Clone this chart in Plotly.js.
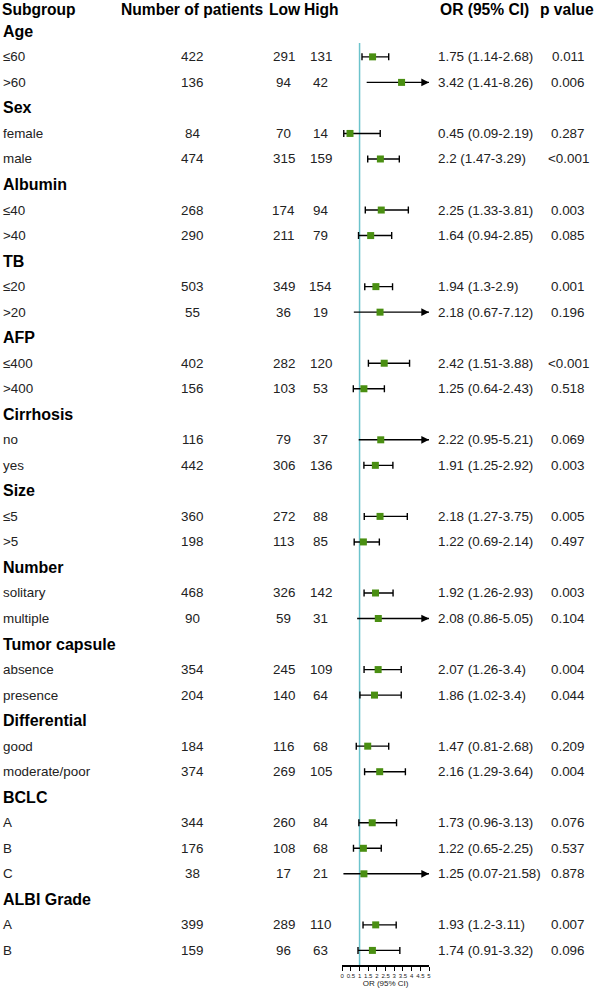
<!DOCTYPE html>
<html>
<head>
<meta charset="utf-8">
<script src="https://cdn.plot.ly/plotly-3.0.1.min.js"></script>
<style>html,body{margin:0;padding:0;background:#fff;}#chart{width:597px;height:993px;}</style>
</head>
<body>
<div id="chart"></div>
<script>
// ---------------- DATA ----------------
const headers = ["Subgroup", "Number of patients", "Low", "High", "OR (95% CI)", "p value"];
const groups = ["Age", "Sex", "Albumin", "TB", "AFP", "Cirrhosis", "Size", "Number",
                "Tumor capsule", "Differential", "BCLC", "ALBI Grade"];
const subgroups = [["≤60", ">60"], ["female", "male"], ["≤40", ">40"], ["≤20", ">20"],
                   ["≤400", ">400"], ["no", "yes"], ["≤5", ">5"], ["solitary", "multiple"],
                   ["absence", "presence"], ["good", "moderate/poor"], ["A", "B", "C"], ["A", "B"]];
const nPatients = [[422, 136], [84, 474], [268, 290], [503, 55], [402, 156], [116, 442],
                   [360, 198], [468, 90], [354, 204], [184, 374], [344, 176, 38], [399, 159]];
const nLow = [[291, 94], [70, 315], [174, 211], [349, 36], [282, 103], [79, 306],
              [272, 113], [326, 59], [245, 140], [116, 269], [260, 108, 17], [289, 96]];
const nHigh = [[131, 42], [14, 159], [94, 79], [154, 19], [120, 53], [37, 136],
               [88, 85], [142, 31], [109, 64], [68, 105], [84, 68, 21], [110, 63]];
const orValue = [[1.75, 3.42], [0.45, 2.2], [2.25, 1.64], [1.94, 2.18], [2.42, 1.25], [2.22, 1.91],
                 [2.18, 1.22], [1.92, 2.08], [2.07, 1.86], [1.47, 2.16], [1.73, 1.22, 1.25], [1.93, 1.74]];
const ciLower = [[1.14, 1.41], [0.09, 1.47], [1.33, 0.94], [1.3, 0.67], [1.51, 0.64], [0.95, 1.25],
                 [1.27, 0.69], [1.26, 0.86], [1.26, 1.02], [0.81, 1.29], [0.96, 0.65, 0.07], [1.2, 0.91]];
const ciUpper = [[2.68, 8.26], [2.19, 3.29], [3.81, 2.85], [2.9, 7.12], [3.88, 2.43], [5.21, 2.92],
                 [3.75, 2.14], [2.93, 5.05], [3.4, 3.4], [2.68, 3.64], [3.13, 2.25, 21.58], [3.11, 3.32]];
const pValues = [["0.011", "0.006"], ["0.287", "<0.001"], ["0.003", "0.085"], ["0.001", "0.196"],
                 ["<0.001", "0.518"], ["0.069", "0.003"], ["0.005", "0.497"], ["0.003", "0.104"],
                 ["0.004", "0.044"], ["0.209", "0.004"], ["0.076", "0.537", "0.878"], ["0.007", "0.096"]];
const xTicks = [0, 0.5, 1, 1.5, 2, 2.5, 3, 3.5, 4, 4.5, 5];
const refValue = 1;

// ---------------- STYLE ----------------
const W = 597, H = 993;
const FONT = "Liberation Sans, Arial, sans-serif";
const BOLD = 16, HEAD = 15.6, REG = 13.4;
const markerColor = "#4a8f12";
const refColor = "#6cc3cc";
const textColor = "#222";
const col = {label: 1, n: 192, low: 283.5, high: 320.5, or: 435.5, p: 568};
const headCol = {label: 1, n: 191.5, low: 285, high: 321.5, or: 484, p: 566.5};
const xMin = xTicks[0], xMax = xTicks[xTicks.length - 1];
const rowTopPx = 5.8, rowStep = 25.53, baselinePx = 965;

// ---------------- BUILD ----------------
const ann = [];
function addText(txt, xpx, row, anchor, bold) {
  ann.push({text: bold ? "<b>" + txt + "</b>" : txt, x: xpx / W, xref: "paper", y: row, yref: "y",
    xanchor: anchor, yanchor: "middle", showarrow: false,
    font: {family: FONT, size: bold ? BOLD : REG, color: bold ? "#000" : textColor}});
}
function addHeader(txt, xpx, anchor) {
  ann.push({text: "<b>" + txt + "</b>", x: xpx / W, xref: "paper", y: 1, yref: "paper",
    xanchor: anchor, yanchor: "top", showarrow: false, borderpad: 0,
    font: {family: FONT, size: HEAD, color: "#000"}});
}
addHeader(headers[0], headCol.label, "left");
addHeader(headers[1], headCol.n, "center");
addHeader(headers[2], headCol.low, "center");
addHeader(headers[3], headCol.high, "center");
addHeader(headers[4], headCol.or, "center");
addHeader(headers[5], headCol.p, "center");

const cap = {x: [], y: [], ep: [], em: []};
const arr = {x: [], y: [], lx: [], ly: []};
let row = 1;
groups.forEach((g, gi) => {
  addText(g, col.label, row, "left", true);
  row++;
  subgroups[gi].forEach((s, si) => {
    const o = orValue[gi][si], lo = ciLower[gi][si], hi = ciUpper[gi][si];
    addText(s, col.label, row, "left", false);
    addText(String(nPatients[gi][si]), col.n, row, "center", false);
    addText(String(nLow[gi][si]), col.low, row, "center", false);
    addText(String(nHigh[gi][si]), col.high, row, "center", false);
    addText(o + " (" + lo + "-" + hi + ")", col.or, row, "left", false);
    addText(pValues[gi][si], col.p, row, "center", false);
    if (hi > xMax) {
      arr.x.push(o); arr.y.push(row);
      arr.lx.push(lo, xMax, null); arr.ly.push(row, row, null);
      ann.push({x: xMax, y: row, xref: "x", yref: "y", ax: xMax - 0.3, ay: row, axref: "x", ayref: "y",
        text: "", showarrow: true, arrowhead: 2, arrowsize: 1.1, arrowwidth: 1.4, arrowcolor: "#000", standoff: 0});
    } else {
      cap.x.push(o); cap.y.push(row); cap.ep.push(hi - o); cap.em.push(o - lo);
    }
    row++;
  });
});

const yTop = -rowTopPx / rowStep;
const yBot = (baselinePx - rowTopPx) / rowStep;

const traces = [
  {type: "scatter", mode: "lines", x: arr.lx, y: arr.ly, line: {color: "#000", width: 1.4},
   hoverinfo: "skip", showlegend: false, cliponaxis: false},
  {type: "scatter", mode: "markers", x: cap.x, y: cap.y,
   error_x: {type: "data", symmetric: false, array: cap.ep, arrayminus: cap.em, color: "#000", thickness: 1.4, width: 3.5},
   marker: {symbol: "square", size: 7, color: markerColor}, showlegend: false, cliponaxis: false},
  {type: "scatter", mode: "markers", x: arr.x, y: arr.y,
   marker: {symbol: "square", size: 7, color: markerColor}, showlegend: false, cliponaxis: false}
];

const layout = {
  width: W, height: H,
  margin: {l: 0, r: 0, t: 0, b: H - baselinePx, pad: 0},
  paper_bgcolor: "#fff", plot_bgcolor: "rgba(0,0,0,0)",
  showlegend: false,
  xaxis: {domain: [342.2 / W, 429 / W], range: [xMin, xMax], tickmode: "array", tickvals: xTicks,
    ticktext: xTicks.map(String), showgrid: false, zeroline: false, showline: true, linecolor: "#000",
    linewidth: 1.5, ticks: "outside", ticklen: 4, tickwidth: 1, tickcolor: "#000",
    tickfont: {family: FONT, size: 6, color: "#222"},
    title: {text: "OR (95% CI)", font: {family: FONT, size: 8, color: "#222"}, standoff: 1}, fixedrange: true},
  yaxis: {range: [yBot, yTop], visible: false, showgrid: false, zeroline: false, fixedrange: true},
  shapes: [{type: "line", xref: "x", yref: "paper", x0: refValue, x1: refValue, y0: 0, y1: 1 - 43 / baselinePx,
    line: {color: refColor, width: 1.5}, layer: "below"}],
  annotations: ann
};

Plotly.newPlot("chart", traces, layout, {displayModeBar: false, staticPlot: true});
</script>
</body>
</html>
